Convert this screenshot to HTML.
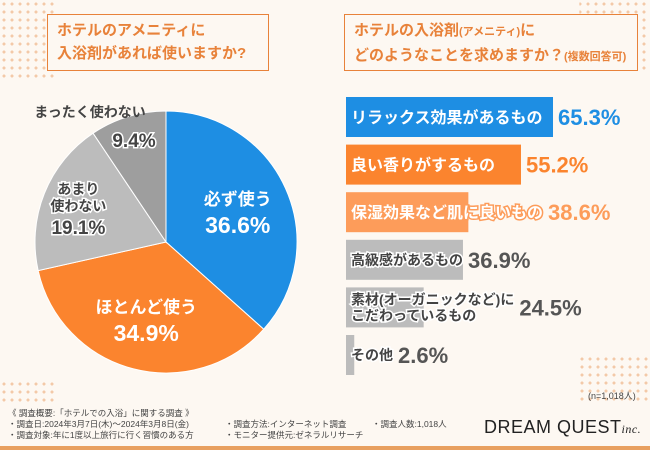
<!DOCTYPE html>
<html><head><meta charset="utf-8"><style>
body{margin:0;width:650px;height:450px;background:#fdf8f2;overflow:hidden;font-family:"Liberation Sans","Noto Sans CJK JP",sans-serif;position:relative}
.box{position:absolute;border:1.5px solid #e8823a;background:#fdf8f2;color:#e8823a;font-weight:bold;font-size:15px;line-height:23px;padding:4px 9px;box-sizing:border-box}
.dots{position:absolute;background-image:radial-gradient(circle,#f3c9a8 1.4px,transparent 1.6px);background-size:8px 8px}
.foot{position:absolute;font-size:8.5px;color:#444;line-height:11px;white-space:nowrap}
</style></head><body>
<div class="dots" style="left:0;top:0;width:56px;height:78px"></div>
<div class="dots" style="left:464px;top:0;width:186px;height:74px;clip-path:polygon(62% 0,100% 0,100% 100%,62% 100%)"></div>
<div class="dots" style="left:0;top:380px;width:56px;height:22px"></div>
<div class="dots" style="left:578px;top:355px;width:72px;height:50px"></div>
<div class="box" style="left:47px;top:14px;width:222px;height:57px">ホテルのアメニティに<br>入浴剤があれば使いますか?</div>
<div class="box" style="left:344px;top:14px;width:294px;height:57px">ホテルの入浴剤<span style="font-size:11px">(アメニティ)</span>に<br>どのようなことを求めますか？<span style="font-size:11px">(複数回答可)</span></div>
<svg id="chart" width="650" height="450" style="position:absolute;left:0;top:0"></svg>
<div class="foot" style="left:8px;top:408px">《 調査概要:「ホテルでの入浴」に関する調査 》<br>・調査日:2024年3月7日(木)〜2024年3月8日(金)<br>・調査対象:年に1度以上旅行に行く習慣のある方</div>
<div class="foot" style="left:225px;top:419px">・調査方法:インターネット調査<br>・モニター提供元:ゼネラルリサーチ</div>
<div class="foot" style="left:372px;top:419px">・調査人数:1,018人</div>
<div class="foot" style="left:588px;top:391px;font-size:9px">(n=1,018人)</div>
<div style="position:absolute;left:484px;top:417px;font-size:18px;color:#222;white-space:nowrap;letter-spacing:0.5px">DREAM QUEST<span style="font-family:'Liberation Serif',serif;font-style:italic;font-size:12px">inc.</span></div>
<div style="position:absolute;left:0;top:446px;width:650px;height:4px;background:#e8a060"></div>
<script>
const pieLabels=[["必ず使う"],["ほとんど使う"],["あまり","使わない"],["まったく使わない"]];
const pieValues=[36.6,34.9,19.1,9.4];
const barLabels=[["リラックス効果があるもの"],["良い香りがするもの"],["保湿効果など肌に良いもの"],["高級感があるもの"],["素材(オーガニックなど)に","こだわっているもの"],["その他"]];
const barValues=[65.3,55.2,38.6,36.9,24.5,2.6];
const NS="http://www.w3.org/2000/svg",svg=document.getElementById("chart");
function mk(t,a,p){const e=document.createElementNS(NS,t);for(const k in a)e.setAttribute(k,a[k]);(p||svg).appendChild(e);return e;}
const pieColors=["#1e8ee3","#fb842e","#bcbcbc","#9e9e9e"];
const pieText=["#fff","#fff","#444","#444"];
const cx=166,cy=242,r=131;
const total=pieValues.reduce((a,b)=>a+b,0);
let ang=0;
pieValues.forEach((v,i)=>{
 const a0=ang,a1=ang+v/total*2*Math.PI;ang=a1;
 const x0=cx+r*Math.sin(a0),y0=cy-r*Math.cos(a0),x1=cx+r*Math.sin(a1),y1=cy-r*Math.cos(a1);
 const p=mk("path",{d:`M${cx},${cy}L${x0},${y0}A${r},${r} 0 ${a1-a0>Math.PI?1:0} 1 ${x1},${y1}Z`,fill:pieColors[i],stroke:"#fff","stroke-width":1});
 
 
 const m=(a0+a1)/2,rr=i==2?r*0.72:r*0.6;
 let tx=cx+rr*Math.sin(m),ty=cy-rr*Math.cos(m);
 const lab=pieLabels[i];
 const g=mk("g",{});
 
 
 const big=i<2, fs=big?17:14;
 const lh=fs+3;
 if(i==3){
  const t1=mk("text",{x:90,y:117,"text-anchor":"middle","font-size":fs,"font-weight":"bold",fill:"#444"},g);t1.textContent=lab[0];
  const t2=mk("text",{x:134,y:147,"text-anchor":"middle","font-size":19,"font-weight":"bold",fill:"#444",stroke:"#fff","stroke-width":3,"paint-order":"stroke"},g);t2.textContent=v.toFixed(1)+"%";
  return;
 }
 let y=ty-(lab.length*lh+(big?24:20))/2+fs;
 lab.forEach(s=>{const t=mk("text",{x:tx,y:y,"text-anchor":"middle","font-size":fs,"font-weight":"bold",fill:pieText[i],stroke:big?"none":"#fff","stroke-width":big?0:3,"paint-order":"stroke"},g);t.textContent=s;y+=lh;});
 const t=mk("text",{x:tx,y:y+(big?8:6),"text-anchor":"middle","font-size":big?23:19,"font-weight":"bold",fill:pieText[i],stroke:big?"none":"#fff","stroke-width":3,"paint-order":"stroke"},g);
 t.textContent=v.toFixed(1)+"%";
});
const bx=346,scale=3.17,by0=97,pitch=47.6,bh=40;
const barColors=["#1e8ee3","#fb842e","#fd9c5a","#bcbcbc","#bcbcbc","#bcbcbc"];
const labFill=["#fff","#fff","#fff","#444","#444","#444"];
const labStroke=["#1e8ee3","#fb842e","#fd9c5a","#fff","#fff","#fff"];
const valColors=["#1e8ee3","#fb842e","#fd9c5a","#555","#555","#555"];
barValues.forEach((v,i)=>{
 const y=by0+i*pitch,w=v*scale;
 const b=mk("rect",{x:bx,y:y,width:w,height:bh,fill:barColors[i]});
 
 
 const lab=barLabels[i],fs=i<3?16:14;
 let ly=y+bh/2+fs/2-2-(lab.length-1)*8;
 let endx=bx+5;
 lab.forEach(s=>{const t=mk("text",{x:bx+5,y:ly,"font-size":fs,"font-weight":"bold",fill:labFill[i],stroke:labStroke[i],"stroke-width":3,"paint-order":"stroke"});
  
  
  t.textContent=s;ly+=16;endx=Math.max(endx,bx+5+t.getComputedTextLength());});
 const vx=Math.max(endx,bx+w)+5;
 const vt=mk("text",{x:vx,y:y+bh/2+8,"font-size":22,"font-weight":"bold",fill:valColors[i]});
 
 
 vt.textContent=v.toFixed(1)+"%";
});
</script>
</body></html>
